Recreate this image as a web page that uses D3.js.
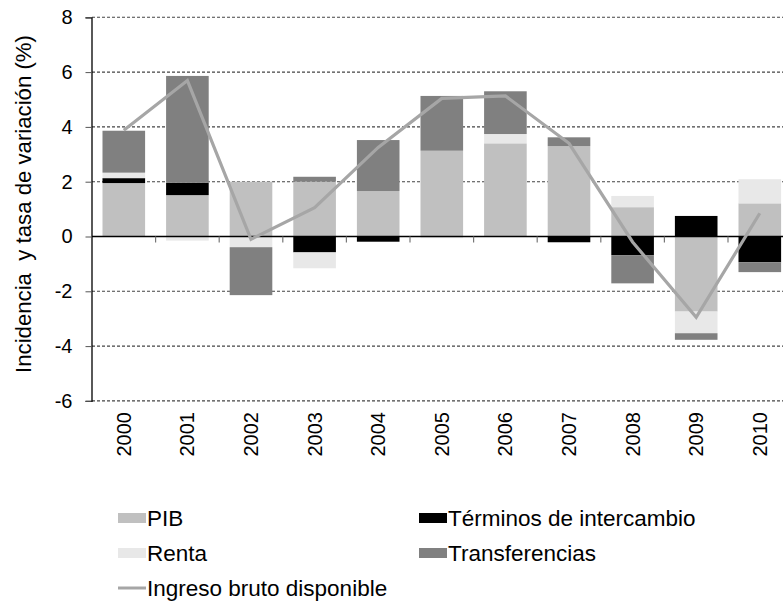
<!DOCTYPE html>
<html>
<head>
<meta charset="utf-8">
<script src="https://cdn.jsdelivr.net/npm/d3@7"></script>
<style>
    body { margin: 0; background: #fff; }
    svg { display: block; font-family: "Liberation Sans", Arial, sans-serif; }
</style>
</head>
<body>
<svg id="chart"></svg>
<script>
// years on the x axis
const years = ["2000", "2001", "2002", "2003", "2004", "2005", "2006", "2007", "2008", "2009", "2010"];
// contributions (percentage points)
const pib = [1.95, 1.51, 2.0, 2.0, 1.66, 3.13, 3.4, 3.3, 1.07, -2.74, 1.21];
const terminos = [0.18, 0.45, 0, -0.58, -0.19, 0, 0, -0.21, -0.68, 0.75, -0.94];
const renta = [0.2, -0.15, -0.39, -0.58, 0, -0.06, 0.34, 0, 0.41, -0.79, 0.88];
const transferencias = [1.53, 3.9, -1.75, 0.18, 1.86, 2.0, 1.56, 0.32, -1.03, -0.24, -0.36];
// growth of gross disposable income (%)
const ingreso = [3.88, 5.69, -0.1, 1.05, 3.25, 5.04, 5.13, 3.4, -0.2, -2.95, 0.85];
const yTicks = [-6, -4, -2, 0, 2, 4, 6, 8];

class IncomeChart {
    constructor(_config) {
        this.config = {
            parentElement: _config.parentElement,
            containerWidth: 783,
            containerHeight: 603,
            plot: {left: 92, right: 791.6, top: 17.3, bottom: 400.9}
        };
        this.series = [
            {key: "PIB", values: pib, color: "#c0c0c0"},
            {key: "Términos de intercambio", values: terminos, color: "#000000"},
            {key: "Renta", values: renta, color: "#e8e8e8"},
            {key: "Transferencias", values: transferencias, color: "#808080"}
        ];
        this.initVis();
    }

    initVis() {
        let vis = this;
        const p = vis.config.plot;
        vis.svg = d3.select(vis.config.parentElement)
            .attr("width", vis.config.containerWidth)
            .attr("height", vis.config.containerHeight);

        vis.xScale = d3.scaleBand().domain(years).range([p.left, p.right])
            .paddingInner(0.33).paddingOuter(0.165);
        vis.yScale = d3.scaleLinear().domain([-6, 8]).range([p.bottom, p.top]);

        vis.gridG = vis.svg.append("g");
        vis.barsG = vis.svg.append("g");
        vis.axesG = vis.svg.append("g");
        vis.lineG = vis.svg.append("g");
        vis.legendG = vis.svg.append("g");
        vis.updateVis();
    }

    updateVis() {
        let vis = this;
        const rows = years.map((y, i) => {
            const r = {year: y};
            vis.series.forEach(s => r[s.key] = s.values[i]);
            return r;
        });
        vis.stacked = d3.stack()
            .keys(vis.series.map(s => s.key))
            .offset(d3.stackOffsetDiverging)(rows);
        vis.renderVis();
    }

    renderVis() {
        let vis = this;
        const p = vis.config.plot;
        const W = vis.config.containerWidth;

        // dashed grid + left axis ticks
        const yAxis = d3.axisLeft(vis.yScale).tickValues(yTicks)
            .tickSize(6).tickPadding(13).tickFormat(d => String(d));
        const ya = vis.axesG.append("g")
            .attr("transform", `translate(${p.left - 0.5},0)`)
            .call(yAxis);
        ya.select(".domain").attr("stroke", "#000").attr("stroke-width", 1.3);
        ya.selectAll(".tick line").attr("stroke", "#555");
        ya.selectAll(".tick text")
            .attr("font-size", 20).attr("fill", "#000")
            .attr("font-family", "Liberation Sans, Arial, sans-serif");

        vis.gridG.selectAll("line").data(yTicks.filter(d => d !== 0)).join("line")
            .attr("x1", p.left).attr("x2", W)
            .attr("y1", d => vis.yScale(d)).attr("y2", d => vis.yScale(d))
            .attr("stroke", "#444").attr("stroke-width", 1.1)
            .attr("stroke-dasharray", "3,2");

        // stacked bars
        vis.barsG.selectAll("g").data(vis.stacked).join("g")
            .attr("fill", (d, i) => vis.series[i].color)
            .selectAll("rect").data(d => d).join("rect")
            .attr("x", d => vis.xScale(d.data.year))
            .attr("width", vis.xScale.bandwidth())
            .attr("y", d => vis.yScale(Math.max(d[0], d[1])))
            .attr("height", d => Math.abs(vis.yScale(d[0]) - vis.yScale(d[1])));

        // zero line and category ticks
        const y0 = vis.yScale(0);
        vis.axesG.append("line")
            .attr("x1", p.left).attr("x2", W)
            .attr("y1", y0).attr("y2", y0)
            .attr("stroke", "#000").attr("stroke-width", 1.3);
        const step = vis.xScale.step();
        const bounds = years.slice(1).map(y => vis.xScale(y) - vis.xScale.paddingInner() * step / 2);
        vis.axesG.selectAll(".xtick").data(bounds).join("line")
            .attr("class", "xtick")
            .attr("x1", d => d).attr("x2", d => d)
            .attr("y1", y0).attr("y2", y0 + 6)
            .attr("stroke", "#777").attr("stroke-width", 1.2);

        // year labels
        vis.axesG.selectAll(".year").data(years).join("text")
            .attr("class", "year")
            .attr("transform", d => `translate(${vis.xScale(d) + vis.xScale.bandwidth() / 2},412) rotate(-90)`)
            .attr("text-anchor", "end")
            .attr("dy", "0.35em")
            .attr("font-size", 20)
            .text(d => d);

        // y axis title
        vis.axesG.append("text")
            .attr("transform", "translate(31,204) rotate(-90)")
            .attr("text-anchor", "middle")
            .attr("font-size", 22.2)
            .text("Incidencia\u00a0 y tasa de variación (%)");

        // income line
        const line = d3.line()
            .x((d, i) => vis.xScale(years[i]) + vis.xScale.bandwidth() / 2)
            .y(d => vis.yScale(d));
        vis.lineG.append("path")
            .datum(ingreso)
            .attr("d", line)
            .attr("fill", "none")
            .attr("stroke", "#a6a6a6")
            .attr("stroke-width", 3.2);

        // legend
        const legendItems = [
            {label: "PIB", color: "#c0c0c0", x: 118, y: 518},
            {label: "Términos de intercambio", color: "#000000", x: 419, y: 518},
            {label: "Renta", color: "#e8e8e8", x: 118, y: 553},
            {label: "Transferencias", color: "#808080", x: 419, y: 553}
        ];
        const lg = vis.legendG.selectAll("g").data(legendItems).join("g")
            .attr("transform", d => `translate(${d.x},${d.y})`);
        lg.append("rect")
            .attr("x", 0).attr("y", -5).attr("width", 28).attr("height", 10)
            .attr("fill", d => d.color);
        lg.append("text")
            .attr("x", 29).attr("dy", "0.35em")
            .attr("font-size", 22.5)
            .text(d => d.label);

        const ll = vis.legendG.append("g").attr("transform", "translate(118,588)");
        ll.append("line").attr("x1", 0).attr("x2", 28)
            .attr("stroke", "#a6a6a6").attr("stroke-width", 3);
        ll.append("text").attr("x", 29).attr("dy", "0.35em")
            .attr("font-size", 22.5)
            .text("Ingreso bruto disponible");
    }
}

new IncomeChart({parentElement: "#chart"});
</script>
</body>
</html>
